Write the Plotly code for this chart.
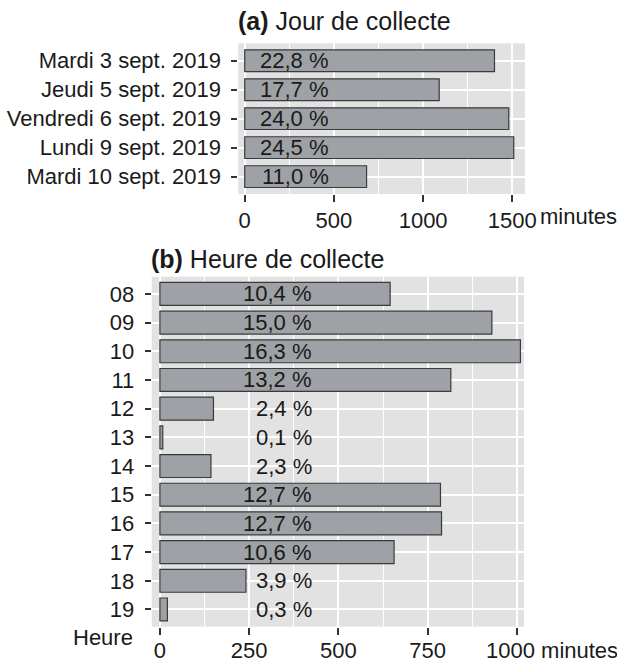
import plotly.graph_objects as go

# ---------------- data ----------------
days = ["Mardi 3 sept. 2019", "Jeudi 5 sept. 2019", "Vendredi 6 sept. 2019",
        "Lundi 9 sept. 2019", "Mardi 10 sept. 2019"]
day_minutes = [1400, 1090, 1480, 1508, 683]
day_pct = ["22,8 %", "17,7 %", "24,0 %", "24,5 %", "11,0 %"]

hours = ["08", "09", "10", "11", "12", "13", "14", "15", "16", "17", "18", "19"]
hour_minutes = [645, 930, 1010, 815, 150, 8, 143, 786, 789, 656, 241, 21]
hour_pct = ["10,4 %", "15,0 %", "16,3 %", "13,2 %", "2,4 %", "0,1 %", "2,3 %",
            "12,7 %", "12,7 %", "10,6 %", "3,9 %", "0,3 %"]

ticks_a = [0, 500, 1000, 1500]
ticks_b = [0, 250, 500, 750, 1000]
unit_label = "minutes"

# ---------------- style ----------------
W, H = 617, 664
FONT = "Liberation Sans, Arial, sans-serif"
FS = 22
PANEL = "#E2E2E2"
BAR_FILL = "#9EA2A6"
BAR_LINE = "#3A3A3A"
TXT = "#1A1A1A"
LABEL_X_A = 483   # label anchor (data units) panel a
LABEL_X_B = 433   # label anchor (data units) panel b


def px_x(v):
    return v / W


def px_y(v):
    return 1 - v / H


fig = go.Figure()
fig.add_trace(go.Bar(y=days, x=day_minutes, orientation="h", width=0.75,
                     marker=dict(color=BAR_FILL, line=dict(color=BAR_LINE, width=1.2)),
                     xaxis="x", yaxis="y", hoverinfo="x+y", showlegend=False))
fig.add_trace(go.Bar(y=hours, x=hour_minutes, orientation="h", width=0.8,
                     marker=dict(color=BAR_FILL, line=dict(color=BAR_LINE, width=1.2)),
                     xaxis="x2", yaxis="y2", hoverinfo="x+y", showlegend=False))

annotations = []
for i, p in enumerate(day_pct):
    annotations.append(dict(x=LABEL_X_A, y=i, xref="x", yref="y", text=p,
                            showarrow=False, xanchor="right", yanchor="middle",
                            font=dict(family=FONT, size=FS, color=TXT)))
for i, p in enumerate(hour_pct):
    annotations.append(dict(x=LABEL_X_B, y=i, xref="x2", yref="y2", text=p,
                            showarrow=False, xanchor="right", yanchor="middle",
                            font=dict(family=FONT, size=FS, color=TXT)))

# titles
annotations.append(dict(x=px_x(236), y=px_y(21), xref="paper", yref="paper",
                        text="<b>(a)</b> Jour de collecte", showarrow=False,
                        xanchor="left", yanchor="middle",
                        font=dict(family=FONT, size=25, color=TXT)))
annotations.append(dict(x=px_x(149), y=px_y(259), xref="paper", yref="paper",
                        text="<b>(b)</b> Heure de collecte", showarrow=False,
                        xanchor="left", yanchor="middle",
                        font=dict(family=FONT, size=25, color=TXT)))
# unit labels and "Heure"
annotations.append(dict(x=px_x(538), y=px_y(216), xref="paper", yref="paper",
                        text=unit_label, showarrow=False, xanchor="left", yanchor="middle",
                        font=dict(family=FONT, size=FS, color=TXT)))
annotations.append(dict(x=px_x(484), y=px_y(650), xref="paper", yref="paper",
                        text=f"{ticks_b[-1]} {unit_label}", showarrow=False,
                        xanchor="left", yanchor="middle",
                        font=dict(family=FONT, size=FS, color=TXT)))
annotations.append(dict(x=px_x(135), y=px_y(637), xref="paper", yref="paper",
                        text="Heure", showarrow=False, xanchor="right", yanchor="middle",
                        font=dict(family=FONT, size=FS, color=TXT)))

common_x = dict(showgrid=True, gridcolor="white", gridwidth=2, zeroline=False,
                ticks="outside", ticklen=7, tickwidth=2, tickcolor="#333333",
                tickfont=dict(family=FONT, size=FS, color=TXT), showline=False,
                automargin=False, fixedrange=True)
common_y = dict(type="category", showgrid=True, gridcolor="white", gridwidth=2,
                zeroline=False, ticks="outside", ticklen=6, tickwidth=2,
                tickcolor="#333333", tickfont=dict(family=FONT, size=FS, color=TXT),
                showline=False, automargin=False, fixedrange=True,
                ticklabelstandoff=6)

ticktext_a = [str(t) for t in ticks_a]
ticktext_b = [str(t) for t in ticks_b]
ticktext_b[-1] = ""  # drawn with its unit as one label

fig.update_layout(
    width=W, height=H,
    margin=dict(l=0, r=0, t=0, b=0),
    paper_bgcolor="white", plot_bgcolor=PANEL,
    xaxis=dict(domain=[px_x(238.3), px_x(525)], anchor="y",
               range=[-36, 1571], tickvals=ticks_a, ticktext=ticktext_a,
               minor=dict(showgrid=True, gridcolor="white", gridwidth=1,
                          tickvals=[250, 750, 1250], ticks=""),
               **common_x),
    yaxis=dict(domain=[px_y(194), px_y(43.3)], anchor="x",
               categoryorder="array", categoryarray=days,
               range=[len(days) - 1 + 0.6, -0.6], **common_y),
    xaxis2=dict(domain=[px_x(151.7), px_x(524)], anchor="y2",
                range=[-23, 1020], tickvals=ticks_b, ticktext=ticktext_b,
                minor=dict(showgrid=True, gridcolor="white", gridwidth=1,
                           tickvals=[125, 375, 625, 875], ticks=""),
                ticklabelstandoff=-3,
                **common_x),
    yaxis2=dict(domain=[px_y(626.7), px_y(276.7)], anchor="x2",
                categoryorder="array", categoryarray=hours,
                range=[len(hours) - 1 + 0.6, -0.6], **common_y),
    annotations=annotations,
)

fig.write_html("out.html", config={"displayModeBar": False},
               post_script="document.body.style.margin='0';document.body.style.overflow='hidden';")
